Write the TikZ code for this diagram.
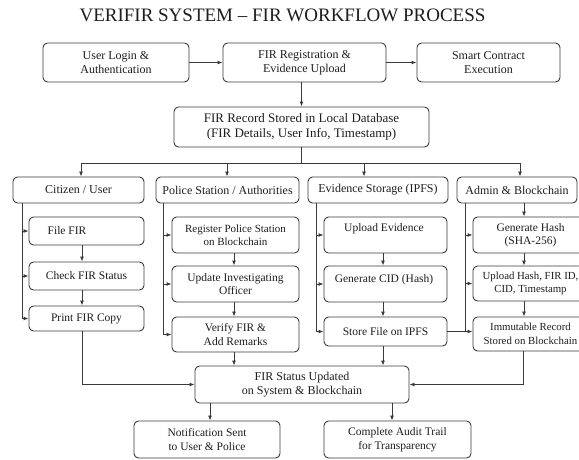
\documentclass[tikz,border=0pt]{standalone}
\usepackage{fontspec}
\setmainfont{Liberation Serif}
\usetikzlibrary{arrows.meta}
\definecolor{linec}{HTML}{3A3A3A}
\definecolor{textc}{HTML}{1E1E1E}
\tikzset{
  box/.style={draw=linec, line width=0.9pt, rounded corners=4.5pt, fill=white, align=center, inner sep=1pt, text=textc, font=\fontsize{12}{14}\selectfont},
  subbox/.style={box, font=\fontsize{11.5}{13.5}\selectfont},
  txt/.style={inner sep=0pt, text=textc, align=center, font=\fontsize{11.5}{13.5}\selectfont},
  conn/.style={draw=linec, line width=0.9pt},
  arr/.style={conn, -{Latex[length=5pt,width=4pt]}},
}
\begin{document}
\begin{tikzpicture}[x=1pt, y=-1pt]
\useasboundingbox (0,0) rectangle (579,459);
\clip (0,0) rectangle (579,459);
\fill[white] (0,0) rectangle (579,459);

\node[text=textc, inner sep=0pt, font=\fontsize{19}{22}\selectfont] (title) at (282.5,15) {VERIFIR SYSTEM – FIR WORKFLOW PROCESS};

% top row
\node[box, minimum width=146pt, minimum height=39pt] (login) at (116,62.5) {User Login \&\\Authentication};
\node[box, minimum width=163pt, minimum height=39pt] (firreg) at (304.5,62.5) {FIR Registration \&\\Evidence Upload};
\node[box, minimum width=143pt, minimum height=39pt] (smart) at (488.5,62.5) {Smart Contract\\Execution};
\node[box, minimum width=255pt, minimum height=40pt, font=\fontsize{13}{15}\selectfont] (record) at (301.5,127) {FIR Record Stored in Local Database\\(FIR Details, User Info, Timestamp)};

% headers
\node[box, minimum width=131pt, minimum height=26pt] (citizen) at (78.5,190) {Citizen / User};
\node[box, minimum width=143pt, minimum height=26pt] (police) at (227.5,190) {Police Station / Authorities};
\node[box, minimum width=140pt, minimum height=26pt] (evid) at (378,190) {Evidence Storage (IPFS)};
\node[box, minimum width=120pt, minimum height=26pt] (admin) at (517,190) {Admin \& Blockchain};

% citizen column
\node[subbox, minimum width=115pt, minimum height=28pt] (file) at (86.5,231) {};
\node[txt] (filet) at (67,230.5) {File FIR};
\node[subbox, minimum width=115pt, minimum height=28pt] (check) at (86.5,276) {Check FIR Status};
\node[subbox, minimum width=115pt, minimum height=25pt] (print) at (86.5,318.5) {Print FIR Copy};

% police column
\node[subbox, minimum width=127pt, minimum height=36pt, font=\fontsize{11}{13.5}\selectfont] (register) at (235.5,235) {Register Police Station\\on Blockchain};
\node[subbox, minimum width=127pt, minimum height=36pt] (update) at (235.5,284) {Update Investigating\\Officer};
\node[subbox, minimum width=127pt, minimum height=35pt] (verify) at (235.5,334.5) {Verify FIR \&\\Add Remarks};

% evidence column
\node[subbox, minimum width=123pt, minimum height=36pt] (upload) at (385.5,235) {};
\node[txt] (uploadt) at (384,228.5) {Upload Evidence};
\node[subbox, minimum width=123pt, minimum height=36pt] (gencid) at (385.5,284) {};
\node[txt] (gencidt) at (384,280) {Generate CID (Hash)};
\node[subbox, minimum width=123pt, minimum height=29pt] (store) at (385.5,331.5) {Store File on IPFS};

% admin column
\node[subbox, minimum width=115pt, minimum height=36pt] (genhash) at (530.5,235) {Generate Hash\\(SHA-256)};
\node[subbox, minimum width=115pt, minimum height=35pt, font=\fontsize{10.8}{13.5}\selectfont] (uphash) at (530.5,283.5) {Upload Hash, FIR ID,\\CID, Timestamp};
\node[subbox, minimum width=115pt, minimum height=34pt, font=\fontsize{10.8}{13.5}\selectfont] (immut) at (530.5,334) {Immutable Record\\Stored on Blockchain};

% bottom
\node[box, minimum width=214pt, minimum height=37pt] (status) at (302,384.5) {FIR Status Updated\\on System \& Blockchain};
\node[subbox, minimum width=146pt, minimum height=37pt] (notif) at (207,439.5) {Notification Sent\\to User \& Police};
\node[subbox, minimum width=147pt, minimum height=37pt] (audit) at (397.5,439.5) {Complete Audit Trail\\for Transparency};

% top connectors
\draw[arr] (login.east) -- (firreg.west);
\draw[arr] (firreg.east) -- (smart.west);
\draw[arr] (firreg.south -| record.north) -- (record.north);

% bus
\coordinate (d1) at (81,163);
\coordinate (d2) at (227,163);
\coordinate (d3) at (364,163);
\coordinate (d4) at (520,163);
\draw[conn] (record.south) -- (record.south |- d1);
\draw[conn] (d1) -- (d4);
\draw[arr] (d1) -- (d1 |- citizen.north);
\draw[arr] (d2) -- (d2 |- police.north);
\draw[arr] (d3) -- (d3 |- evid.north);
\draw[arr] (d4) -- (d4 |- admin.north);

% spines
\coordinate (s1) at (22,203);
\coordinate (s2) at (163,203);
\coordinate (s3) at (316,203);
\coordinate (s4) at (465,203);
\draw[conn] (s1) -- (s1 |- print.west);
\draw[arr] (s1 |- file.west) -- (file.west);
\draw[arr] (s1 |- check.west) -- (check.west);
\draw[arr] (s1 |- print.west) -- (print.west);

\draw[conn] (s2) -- (s2 |- verify.west);
\draw[arr] (s2 |- register.west) -- (register.west);
\draw[arr] (s2 |- update.west) -- (update.west);
\draw[arr] (s2 |- verify.west) -- (verify.west);

\draw[conn] (s3) -- (s3 |- store.west);
\draw[arr] (s3 |- upload.west) -- (upload.west);
\draw[arr] (s3 |- gencid.west) -- (gencid.west);
\draw[arr] (s3 |- store.west) -- (store.west);

\draw[conn] (s4) -- (s4 |- store.east);
\draw[arr] (s4 |- genhash.west) -- (genhash.west);
\draw[arr] (s4 |- uphash.west) -- (uphash.west);
\draw[arr] (store.east) -- (store.east -| immut.west);

% vertical arrows in columns
\draw[arr] ([xshift=-4.5pt]file.south) -- ([xshift=-4.5pt]check.north);
\draw[arr] ([xshift=-4.5pt]check.south) -- ([xshift=-4.5pt]print.north);
\draw[arr] ([xshift=-1.5pt]register.south) -- ([xshift=-1.5pt]update.north);
\draw[arr] ([xshift=-1.5pt]update.south) -- ([xshift=-1.5pt]verify.north);
\draw[arr] ([xshift=-2.5pt]upload.south) -- ([xshift=-2.5pt]gencid.north);
\draw[arr] ([xshift=-2.5pt]gencid.south) -- ([xshift=-2.5pt]store.north);
\coordinate (ah) at (524,203);
\draw[arr] (ah) -- (ah |- genhash.north);
\draw[arr] (ah |- genhash.south) -- (ah |- uphash.north);
\draw[arr] (ah |- uphash.south) -- (ah |- immut.north);

% to status
\draw[arr] ([xshift=-4.5pt]print.south) |- (status.west);
\draw[arr] ([xshift=-1.5pt]verify.south) -- ([xshift=-1.5pt]verify.south |- status.north);
\draw[arr] ([xshift=-2.5pt]store.south) -- ([xshift=-2.5pt]store.south |- status.north);
\draw[arr] ([xshift=-7.5pt]immut.south) |- (status.east);

% from status
\draw[arr] ([xshift=3pt]notif.north |- status.south) -- ([xshift=3pt]notif.north);
\draw[arr] ([xshift=-5.5pt]audit.north |- status.south) -- ([xshift=-5.5pt]audit.north);
\end{tikzpicture}
\end{document}
